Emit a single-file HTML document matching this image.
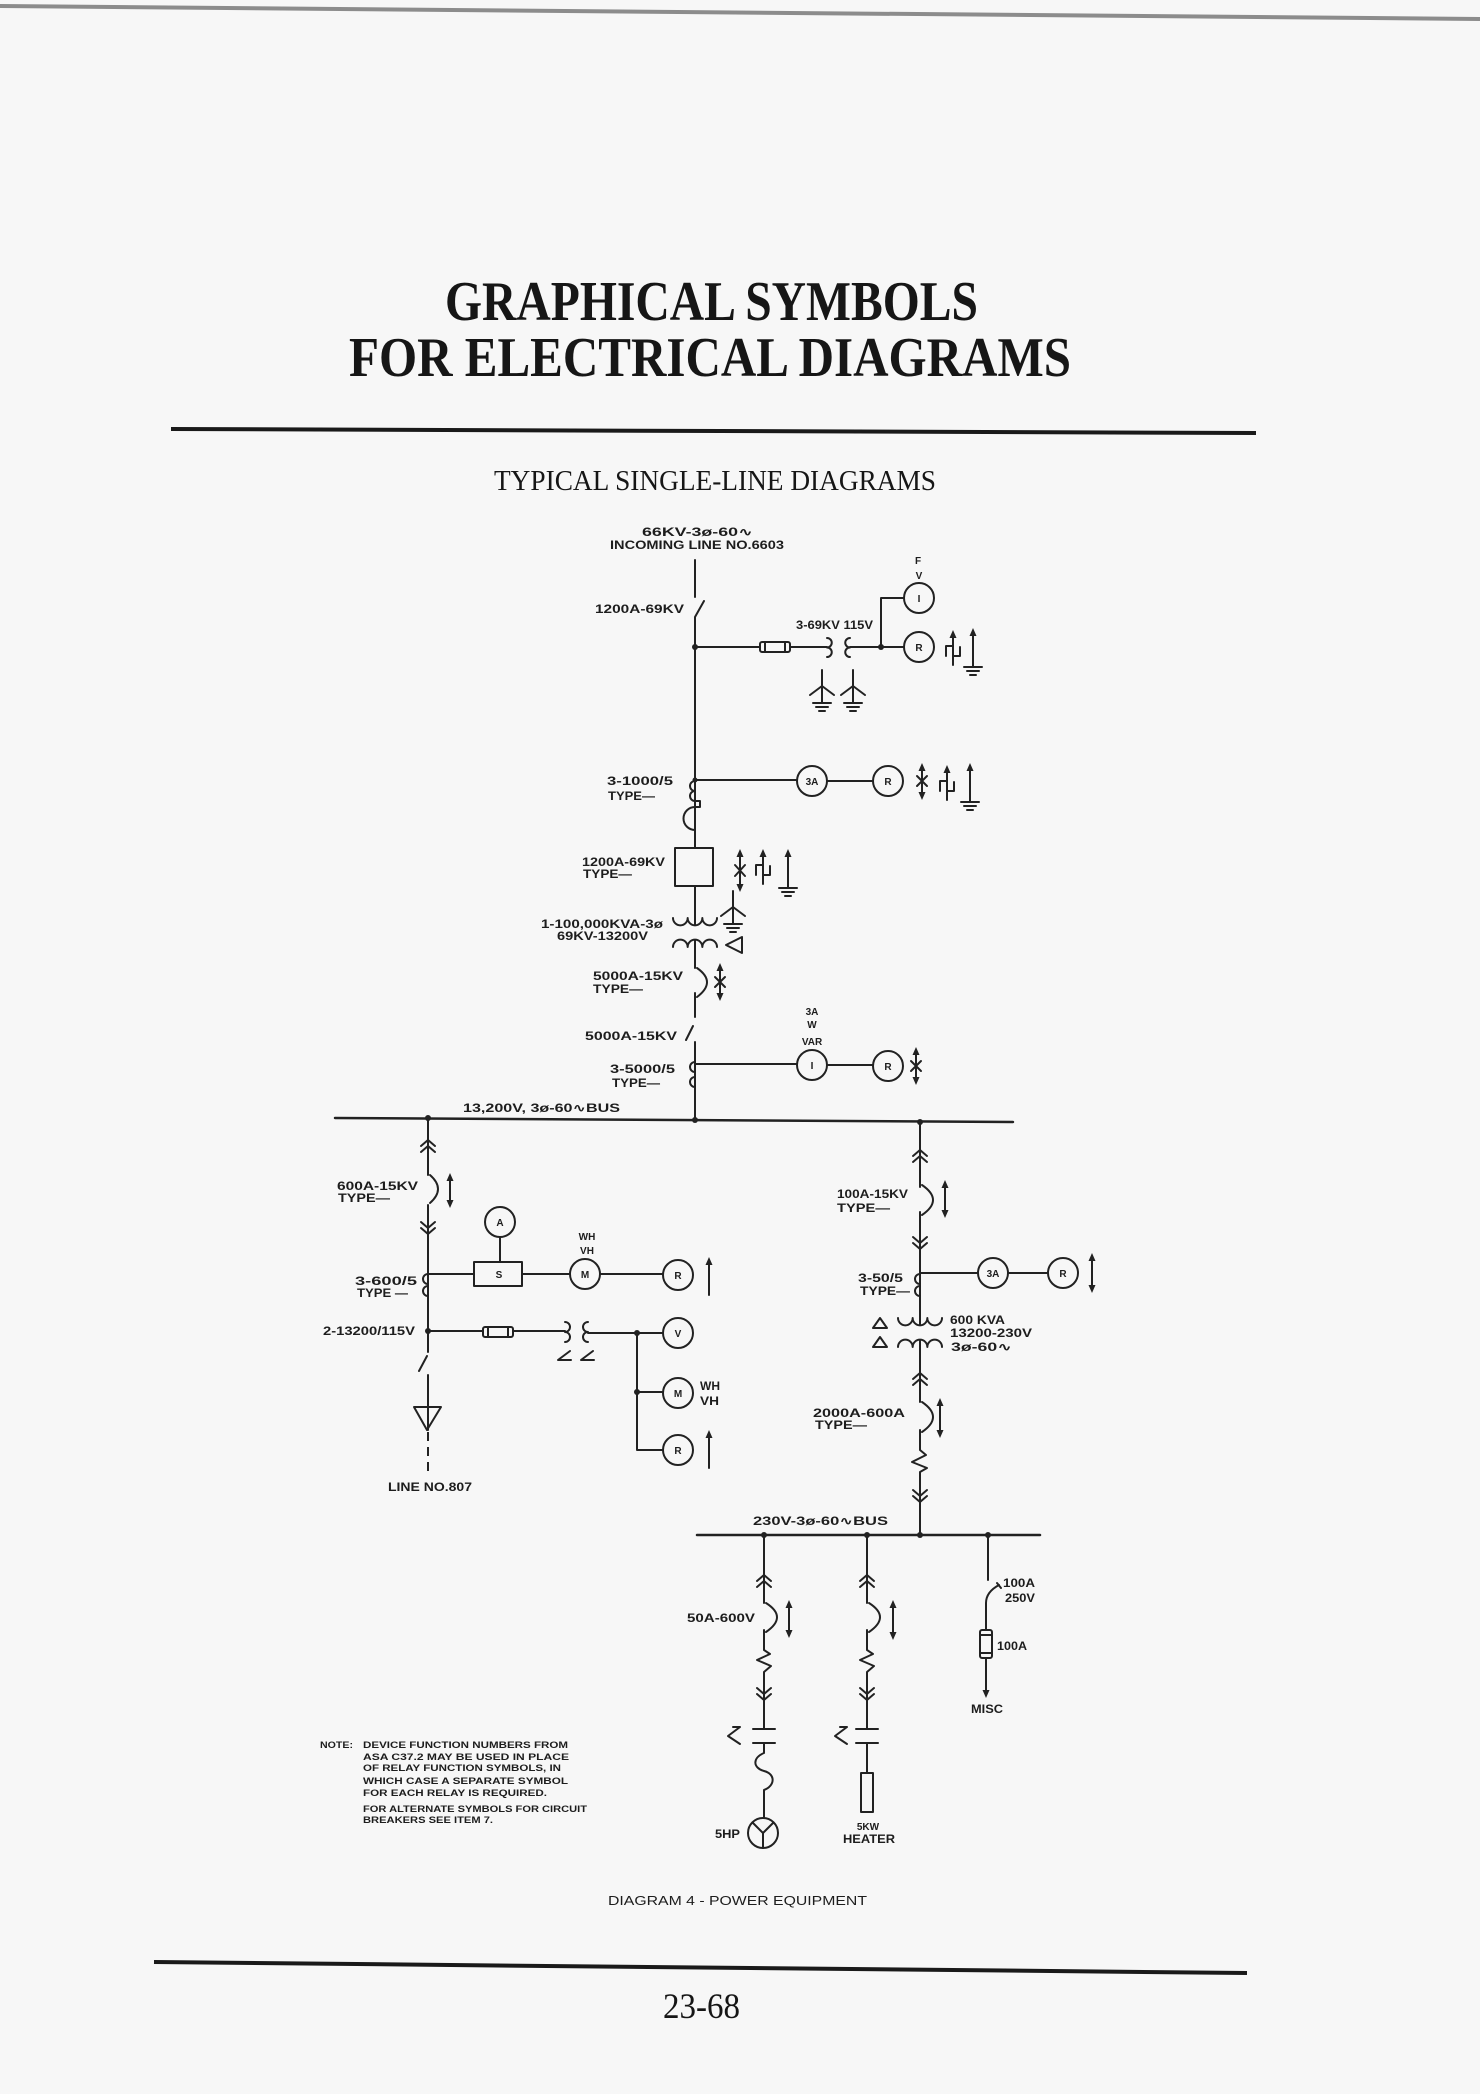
<!DOCTYPE html>
<html>
<head>
<meta charset="utf-8">
<style>
html,body{margin:0;padding:0;background:#f7f7f7;}
svg{display:block;}
.l{font-family:"Liberation Sans","DejaVu Sans",sans-serif;font-weight:bold;font-size:12px;fill:#1d1d1d;}
.c{font-family:"Liberation Sans","DejaVu Sans",sans-serif;font-weight:bold;font-size:10px;fill:#1d1d1d;text-anchor:middle;}
.n{font-family:"Liberation Sans","DejaVu Sans",sans-serif;font-weight:bold;font-size:9px;fill:#1d1d1d;}
.cap{font-family:"Liberation Sans","DejaVu Sans",sans-serif;font-size:13px;fill:#1d1d1d;}
.ti{font-family:"Liberation Serif","DejaVu Serif",serif;font-weight:bold;font-size:56px;fill:#161616;}
.st{font-family:"Liberation Serif","DejaVu Serif",serif;font-size:29px;fill:#161616;}
.pg{font-family:"Liberation Serif","DejaVu Serif",serif;font-size:36px;fill:#161616;}
</style>
</head>
<body>
<svg width="1480" height="2094" viewBox="0 0 1480 2094" xmlns="http://www.w3.org/2000/svg">
<defs>
  <path id="cu" d="M-7 6 L0 0 L7 6 M-7 12 L0 6 L7 12"/>
  <path id="cd" d="M-7 -6 L0 0 L7 -6 M-7 -12 L0 -6 L7 -12"/>
  <polygon id="au" points="0,0 -3.5,8 3.5,8" fill="#222" stroke="none"/>
  <polygon id="ad" points="0,0 -3.5,-8 3.5,-8" fill="#222" stroke="none"/>
  <path id="gnd" d="M-9 0 H9 M-6 4 H6 M-3 8 H3"/>
  <g id="wy"><path d="M0 0 V32 M0 16 L-12 25 M0 16 L12 25 M-9 33 H9 M-6 37 H6 M-3 41 H3"/></g>
  <g id="stp"><path d="M0 6 V35 M-7 26 V16 H0 M0 26 H7 V17"/><use href="#au"/></g>
  <g id="ag"><path d="M0 6 V38"/><use href="#au"/><use href="#gnd" y="39"/></g>
</defs>

<rect width="1480" height="2094" fill="#f7f7f7"/>
<line x1="0" y1="6" x2="1480" y2="19" stroke="#8c8c8c" stroke-width="4"/>

<!-- Title -->
<text class="ti" x="445" y="320" textLength="533" lengthAdjust="spacingAndGlyphs">GRAPHICAL SYMBOLS</text>
<text class="ti" x="349" y="376" textLength="722" lengthAdjust="spacingAndGlyphs">FOR ELECTRICAL DIAGRAMS</text>
<line x1="171" y1="429" x2="1256" y2="433" stroke="#1a1a1a" stroke-width="4"/>
<text class="st" x="494" y="490" textLength="442" lengthAdjust="spacingAndGlyphs">TYPICAL SINGLE-LINE DIAGRAMS</text>

<g stroke="#222" stroke-width="2" fill="none" stroke-linecap="round" stroke-linejoin="round">
  <!-- ===== TOP MAIN VERTICAL ===== -->
  <path d="M695 560 V597 M695 617 L704 601 M695 617 V848 M695 886 V925 M695 940 V968 M695 993 V1017 M686 1040 L693 1026 M695 1042 V1120"/>

  <!-- PT branch -->
  <path d="M695 647 H760 M790 647 H827 M850 647 H904"/>
  <rect x="760" y="642" width="30" height="10" rx="2"/>
  <path d="M765 642 V652 M785 642 V652"/>
  <path d="M827 638 a4.75 4.75 0 0 1 0 9.5 a4.75 4.75 0 0 1 0 9.5"/>
  <path d="M850 638 a4.75 4.75 0 0 0 0 9.5 a4.75 4.75 0 0 0 0 9.5"/>
  <path d="M881 647 V598 H904"/>
  <circle cx="919" cy="598" r="15"/>
  <circle cx="919" cy="647" r="15"/>
  <use href="#stp" x="953" y="630"/>
  <use href="#ag" x="973" y="628"/>
  <use href="#wy" x="822" y="670"/>
  <use href="#wy" x="853" y="670"/>

  <!-- CT 3-1000/5 -->
  <path d="M695 781 a5 5 0 0 1 0 0 M695 781 a5 5 0 0 0 0 10 a5 5 0 0 0 0 10 M695 801 h5 v6 h-5 M695 807 a11.5 11.5 0 0 0 0 23"/>
  <path d="M695 780 H797 M827 781 H873"/>
  <circle cx="812" cy="781" r="15"/>
  <circle cx="888" cy="781" r="15"/>
  <path d="M922 771 V792 M917 776 L927 786 M927 776 L917 786"/>
  <use href="#au" x="922" y="763"/><use href="#ad" x="922" y="800"/>
  <use href="#stp" x="947" y="765"/>
  <use href="#ag" x="970" y="763"/>

  <!-- Breaker box -->
  <rect x="675" y="848" width="38" height="38"/>
  <path d="M740 857 V884 M735 865 L745 876 M745 865 L735 876"/>
  <use href="#au" x="740" y="849"/><use href="#ad" x="740" y="892"/>
  <use href="#stp" x="763" y="849"/>
  <use href="#ag" x="788" y="849"/>

  <!-- Main transformer -->
  <path d="M673 918 a7.33 7.33 0 0 0 14.67 0 a7.33 7.33 0 0 0 14.67 0 a7.33 7.33 0 0 0 14.67 0"/>
  <path d="M673 947 a7.33 7.33 0 0 1 14.67 0 a7.33 7.33 0 0 1 14.67 0 a7.33 7.33 0 0 1 14.67 0"/>
  <use href="#wy" x="733" y="891"/>
  <polygon points="726,945 742,937 742,953"/>

  <!-- 5000A breaker -->
  <path d="M697 968 Q717 982 697 997"/>
  <path d="M720 971 V993 M715 977 L725 987 M725 977 L715 987"/>
  <use href="#au" x="720" y="963"/><use href="#ad" x="720" y="1001"/>

  <!-- CT 3-5000/5 -->
  <path d="M695 1062 a5 5 0 0 0 0 10 M695 1077 a5 5 0 0 0 0 10"/>
  <path d="M695 1064 H797 M827 1065 H873"/>
  <circle cx="812" cy="1065" r="15"/>
  <circle cx="888" cy="1066" r="15"/>
  <path d="M916 1055 V1077 M911 1061 L921 1071 M921 1061 L911 1071"/>
  <use href="#au" x="916" y="1047"/><use href="#ad" x="916" y="1085"/>

  <!-- 13.2kV BUS -->
  <path d="M335 1118 L1013 1122" stroke-width="2.5"/>

  <!-- ===== LEFT BRANCH ===== -->
  <path d="M428 1118 V1175 M428 1205 V1352 M419 1371 L427 1356 M428 1375 V1430"/>
  <use href="#cu" x="428" y="1140"/>
  <path d="M430 1175 Q446 1189 430 1203"/>
  <use href="#cd" x="428" y="1234"/>
  <path d="M450 1181 V1200"/>
  <use href="#au" x="450" y="1173"/><use href="#ad" x="450" y="1208"/>
  <path d="M428 1274 a5 5 0 0 0 0 10 M428 1286 a5 5 0 0 0 0 10"/>
  <path d="M428 1274 H474 M522 1274 H570 M600 1274 H663"/>
  <rect x="474" y="1262" width="48" height="24"/>
  <circle cx="500" cy="1222" r="15"/>
  <path d="M500 1237 V1262"/>
  <circle cx="585" cy="1274" r="15"/>
  <circle cx="678" cy="1275" r="15"/>
  <path d="M709 1265 V1295"/><use href="#au" x="709" y="1257"/>
  <!-- PT -->
  <path d="M428 1331 H483 M513 1331 H565 M588 1333 H663"/>
  <rect x="483" y="1327" width="30" height="10" rx="2"/>
  <path d="M488 1327 V1337 M508 1327 V1337"/>
  <path d="M565 1322 a5 5 0 0 1 0 10 a5 5 0 0 1 0 10"/>
  <path d="M588 1322 a5 5 0 0 0 0 10 a5 5 0 0 0 0 10"/>
  <path d="M570 1351 L558 1360 L571 1360 M593 1351 L581 1360 L594 1360"/>
  <circle cx="678" cy="1333" r="15"/>
  <path d="M637 1333 V1450 H663 M637 1392 H663"/>
  <circle cx="678" cy="1393" r="15"/>
  <circle cx="678" cy="1450" r="15"/>
  <path d="M709 1438 V1468"/><use href="#au" x="709" y="1430"/>
  <polygon points="414,1407 441,1407 427,1430"/>
  <path d="M428 1432 V1476" stroke-dasharray="9 6" stroke-linecap="butt"/>

  <!-- ===== RIGHT BRANCH ===== -->
  <path d="M920 1122 V1187 M920 1212 V1325 M920 1340 V1402 M920 1430 V1450 L926 1455 L912 1462 L927 1468 L920 1472 V1535"/>
  <use href="#cu" x="920" y="1150"/>
  <path d="M922 1185 Q944 1200 922 1215"/>
  <use href="#cd" x="920" y="1249"/>
  <path d="M945 1188 V1210"/>
  <use href="#au" x="945" y="1180"/><use href="#ad" x="945" y="1218"/>
  <path d="M920 1274 a5 5 0 0 0 0 10 M920 1286 a5 5 0 0 0 0 10"/>
  <path d="M920 1273 H978 M1008 1273 H1048"/>
  <circle cx="993" cy="1273" r="15"/>
  <circle cx="1063" cy="1273" r="15"/>
  <path d="M1092 1261 V1285"/>
  <use href="#au" x="1092" y="1253"/><use href="#ad" x="1092" y="1293"/>
  <path d="M898 1318 a7.33 7.33 0 0 0 14.67 0 a7.33 7.33 0 0 0 14.67 0 a7.33 7.33 0 0 0 14.67 0"/>
  <path d="M898 1347 a7.33 7.33 0 0 1 14.67 0 a7.33 7.33 0 0 1 14.67 0 a7.33 7.33 0 0 1 14.67 0"/>
  <polygon points="873,1328 887,1328 880,1318"/>
  <polygon points="873,1347 887,1347 880,1337"/>
  <use href="#cu" x="920" y="1373"/>
  <path d="M922 1402 Q944 1417 922 1432"/>
  <path d="M940 1406 V1430"/>
  <use href="#au" x="940" y="1398"/><use href="#ad" x="940" y="1438"/>
  <use href="#cd" x="920" y="1502"/>

  <!-- 230V BUS -->
  <path d="M697 1535 H1040" stroke-width="2.5"/>

  <!-- branch 1 (motor) -->
  <path d="M764 1535 V1603 M764 1630 V1650 L770 1654 L757 1660 L771 1666 L764 1672 V1729 M753 1729 H775 M753 1743 H775 M764 1743 V1753 C752 1758 753 1768 764 1771 C776 1774 775 1786 764 1790 V1818"/>
  <use href="#cu" x="764" y="1575"/>
  <path d="M766 1603 Q788 1617 766 1632"/>
  <use href="#cd" x="764" y="1700"/>
  <path d="M733 1727 L740 1727 L728 1736 L740 1744"/>
  <path d="M789 1608 V1630"/>
  <use href="#au" x="789" y="1600"/><use href="#ad" x="789" y="1638"/>
  <circle cx="763" cy="1833" r="15"/>
  <path d="M763 1833 L753 1823 M763 1833 L773 1823 M763 1833 V1848"/>

  <!-- branch 2 (heater) -->
  <path d="M867 1535 V1603 M867 1630 V1650 L873 1654 L860 1660 L874 1666 L867 1672 V1729 M856 1729 H878 M856 1743 H878 M867 1743 V1773"/>
  <use href="#cu" x="867" y="1575"/>
  <path d="M869 1603 Q891 1617 869 1632"/>
  <use href="#cd" x="867" y="1700"/>
  <path d="M840 1727 L847 1727 L835 1736 L847 1744"/>
  <path d="M893 1608 V1632"/>
  <use href="#au" x="893" y="1600"/><use href="#ad" x="893" y="1640"/>
  <rect x="861" y="1773" width="12" height="39"/>

  <!-- branch 3 (misc) -->
  <path d="M988 1535 V1580 M986 1603 Q986 1592 999 1585 M997 1583 L1001 1588 M986 1603 V1630 M986 1658 V1690"/>
  <rect x="980" y="1630" width="12" height="28" rx="2"/>
  <path d="M980 1635 H992 M980 1653 H992"/>
  <use href="#ad" x="986" y="1698"/>
</g>

<!-- junction dots -->
<g fill="#222">
  <circle cx="695" cy="647" r="3"/>
  <circle cx="881" cy="647" r="3"/>
  <circle cx="695" cy="780" r="2.5"/>
  <circle cx="695" cy="1120" r="3"/>
  <circle cx="920" cy="1122" r="3"/>
  <circle cx="428" cy="1118" r="3"/>
  <circle cx="428" cy="1331" r="3"/>
  <circle cx="637" cy="1333" r="3"/>
  <circle cx="637" cy="1392" r="3"/>
  <circle cx="764" cy="1535" r="3"/>
  <circle cx="867" cy="1535" r="3"/>
  <circle cx="920" cy="1535" r="3"/>
  <circle cx="988" cy="1535" r="3"/>
</g>

<!-- Labels top -->
<text class="l" x="642" y="536" textLength="111" lengthAdjust="spacingAndGlyphs">66KV-3ø-60∿</text>
<text class="l" x="610" y="549" textLength="174" lengthAdjust="spacingAndGlyphs">INCOMING LINE NO.6603</text>
<text class="l" x="595" y="613" textLength="89" lengthAdjust="spacingAndGlyphs">1200A-69KV</text>
<text class="l" x="796" y="629" textLength="77" lengthAdjust="spacingAndGlyphs">3-69KV 115V</text>
<text class="c" x="918" y="564">F</text>
<text class="c" x="919" y="579">V</text>
<text class="c" x="919" y="602">I</text>
<text class="c" x="919" y="651">R</text>
<text class="l" x="607" y="785" textLength="66" lengthAdjust="spacingAndGlyphs">3-1000/5</text>
<text class="l" x="608" y="800" textLength="47" lengthAdjust="spacingAndGlyphs">TYPE—</text>
<text class="c" x="812" y="785">3A</text>
<text class="c" x="888" y="785">R</text>
<text class="l" x="582" y="866" textLength="83" lengthAdjust="spacingAndGlyphs">1200A-69KV</text>
<text class="l" x="583" y="878" textLength="49" lengthAdjust="spacingAndGlyphs">TYPE—</text>
<text class="l" x="541" y="928" textLength="122" lengthAdjust="spacingAndGlyphs">1-100,000KVA-3ø</text>
<text class="l" x="557" y="940" textLength="91" lengthAdjust="spacingAndGlyphs">69KV-13200V</text>
<text class="l" x="593" y="980" textLength="90" lengthAdjust="spacingAndGlyphs">5000A-15KV</text>
<text class="l" x="593" y="993" textLength="50" lengthAdjust="spacingAndGlyphs">TYPE—</text>
<text class="l" x="585" y="1040" textLength="92" lengthAdjust="spacingAndGlyphs">5000A-15KV</text>
<text class="c" x="812" y="1015">3A</text>
<text class="c" x="812" y="1028">W</text>
<text class="c" x="812" y="1045">VAR</text>
<text class="c" x="812" y="1069">I</text>
<text class="c" x="888" y="1070">R</text>
<text class="l" x="610" y="1073" textLength="65" lengthAdjust="spacingAndGlyphs">3-5000/5</text>
<text class="l" x="612" y="1087" textLength="48" lengthAdjust="spacingAndGlyphs">TYPE—</text>
<text class="l" x="463" y="1112" textLength="157" lengthAdjust="spacingAndGlyphs">13,200V, 3ø-60∿BUS</text>

<!-- Labels left -->
<text class="l" x="337" y="1190" textLength="81" lengthAdjust="spacingAndGlyphs">600A-15KV</text>
<text class="l" x="338" y="1202" textLength="52" lengthAdjust="spacingAndGlyphs">TYPE—</text>
<text class="c" x="500" y="1226">A</text>
<text class="c" x="499" y="1278">S</text>
<text class="c" x="587" y="1240">WH</text>
<text class="c" x="587" y="1254">VH</text>
<text class="c" x="585" y="1278">M</text>
<text class="c" x="678" y="1279">R</text>
<text class="l" x="355" y="1285" textLength="62" lengthAdjust="spacingAndGlyphs">3-600/5</text>
<text class="l" x="357" y="1297" textLength="51" lengthAdjust="spacingAndGlyphs">TYPE —</text>
<text class="l" x="323" y="1335" textLength="92" lengthAdjust="spacingAndGlyphs">2-13200/115V</text>
<text class="c" x="678" y="1337">V</text>
<text class="c" x="678" y="1397">M</text>
<text class="c" x="678" y="1454">R</text>
<text class="l" x="700" y="1390" textLength="20" lengthAdjust="spacingAndGlyphs">WH</text>
<text class="l" x="700" y="1405" textLength="19" lengthAdjust="spacingAndGlyphs">VH</text>
<text class="l" x="388" y="1491" textLength="84" lengthAdjust="spacingAndGlyphs">LINE NO.807</text>

<!-- Labels right -->
<text class="l" x="837" y="1198" textLength="71" lengthAdjust="spacingAndGlyphs">100A-15KV</text>
<text class="l" x="837" y="1212" textLength="53" lengthAdjust="spacingAndGlyphs">TYPE—</text>
<text class="l" x="858" y="1282" textLength="45" lengthAdjust="spacingAndGlyphs">3-50/5</text>
<text class="l" x="860" y="1295" textLength="50" lengthAdjust="spacingAndGlyphs">TYPE—</text>
<text class="c" x="993" y="1277">3A</text>
<text class="c" x="1063" y="1277">R</text>
<text class="l" x="950" y="1324" textLength="55" lengthAdjust="spacingAndGlyphs">600 KVA</text>
<text class="l" x="950" y="1337" textLength="82" lengthAdjust="spacingAndGlyphs">13200-230V</text>
<text class="l" x="951" y="1351" textLength="61" lengthAdjust="spacingAndGlyphs">3ø-60∿</text>
<text class="l" x="813" y="1417" textLength="92" lengthAdjust="spacingAndGlyphs">2000A-600A</text>
<text class="l" x="815" y="1429" textLength="52" lengthAdjust="spacingAndGlyphs">TYPE—</text>

<!-- Labels bottom -->
<text class="l" x="753" y="1525" textLength="135" lengthAdjust="spacingAndGlyphs">230V-3ø-60∿BUS</text>
<text class="l" x="687" y="1622" textLength="68" lengthAdjust="spacingAndGlyphs">50A-600V</text>
<text class="l" x="1003" y="1587" textLength="32" lengthAdjust="spacingAndGlyphs">100A</text>
<text class="l" x="1005" y="1602" textLength="30" lengthAdjust="spacingAndGlyphs">250V</text>
<text class="l" x="997" y="1650" textLength="30" lengthAdjust="spacingAndGlyphs">100A</text>
<text class="l" x="971" y="1713" textLength="32" lengthAdjust="spacingAndGlyphs">MISC</text>
<text class="l" x="715" y="1838" textLength="25" lengthAdjust="spacingAndGlyphs">5HP</text>
<text class="c" x="868" y="1830">5KW</text>
<text class="l" x="843" y="1843" textLength="52" lengthAdjust="spacingAndGlyphs">HEATER</text>

<!-- Note -->
<text class="n" x="320" y="1748" textLength="33" lengthAdjust="spacingAndGlyphs">NOTE:</text>
<text class="n" x="363" y="1748" textLength="205" lengthAdjust="spacingAndGlyphs">DEVICE FUNCTION NUMBERS FROM</text>
<text class="n" x="363" y="1760" textLength="206" lengthAdjust="spacingAndGlyphs">ASA C37.2 MAY BE USED IN PLACE</text>
<text class="n" x="363" y="1771" textLength="198" lengthAdjust="spacingAndGlyphs">OF RELAY FUNCTION SYMBOLS, IN</text>
<text class="n" x="363" y="1784" textLength="205" lengthAdjust="spacingAndGlyphs">WHICH CASE A SEPARATE SYMBOL</text>
<text class="n" x="363" y="1796" textLength="184" lengthAdjust="spacingAndGlyphs">FOR EACH RELAY IS REQUIRED.</text>
<text class="n" x="363" y="1812" textLength="224" lengthAdjust="spacingAndGlyphs">FOR ALTERNATE SYMBOLS FOR CIRCUIT</text>
<text class="n" x="363" y="1823" textLength="130" lengthAdjust="spacingAndGlyphs">BREAKERS SEE ITEM 7.</text>

<!-- Caption & footer -->
<text class="cap" x="608" y="1905" textLength="259" lengthAdjust="spacingAndGlyphs">DIAGRAM 4 - POWER EQUIPMENT</text>
<line x1="154" y1="1962" x2="1247" y2="1973" stroke="#1a1a1a" stroke-width="4"/>
<text class="pg" x="663" y="2018" textLength="77" lengthAdjust="spacingAndGlyphs">23-68</text>
</svg>
</body>
</html>
